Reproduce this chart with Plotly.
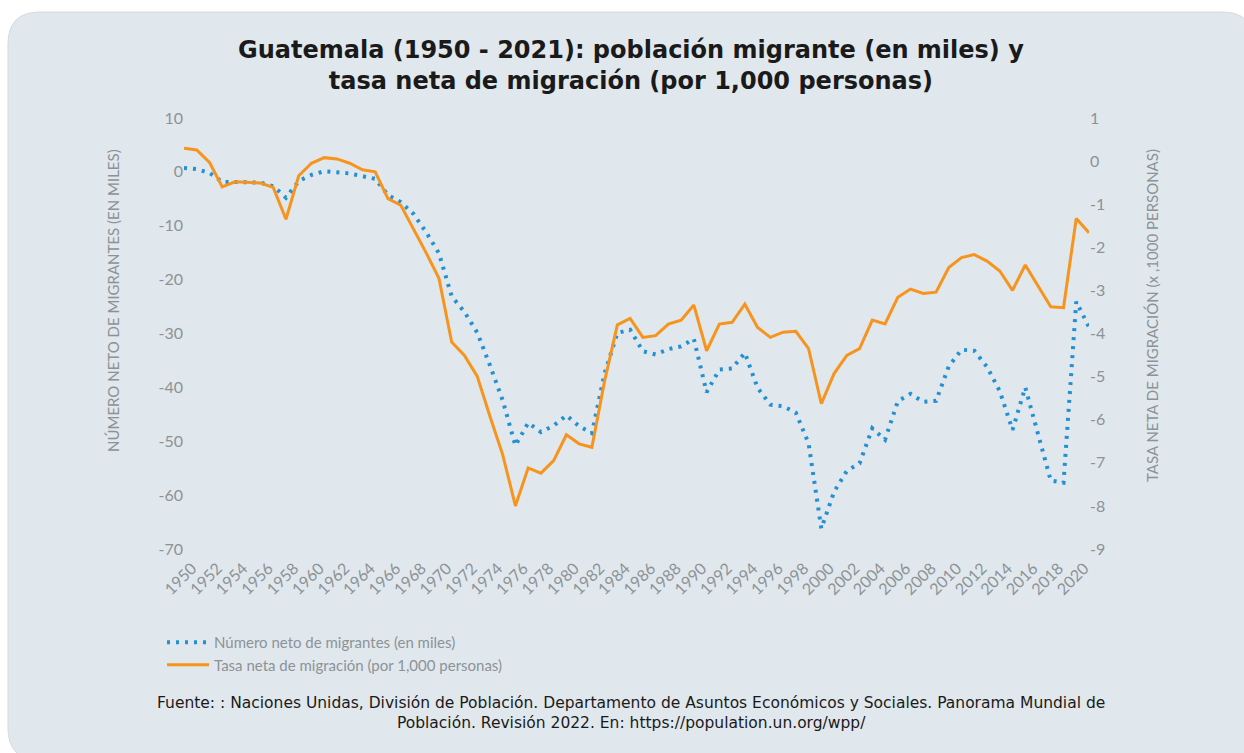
"""Guatemala: net migrants (thousands) and net migration rate, 1950-2021."""

import plotly.graph_objects as go

years = list(range(1950, 2022))

# Número neto de migrantes (en miles) - left axis
migrantes = [
    0.74, 0.5, -0.2, -1.86, -1.86, -1.9, -2.0, -2.65, -4.8, -1.7,
    -0.56, 0.12, 0.0, -0.3, -0.8, -1.3, -4.3, -5.6, -7.8, -11.2,
    -15.1, -23.1, -26.0, -29.8, -35.9, -42.4, -50.8, -46.6, -48.3, -47.1,
    -45.2, -47.2, -48.5, -37.4, -29.9, -29.3, -33.3, -33.9, -32.9, -32.4,
    -31.0, -40.9, -36.7, -36.5, -33.6, -40.1, -43.2, -43.5, -44.7, -50.4,
    -66.2, -59.4, -55.5, -54.1, -47.6, -49.7, -42.6, -41.2, -42.7, -42.5,
    -36.1, -33.0, -33.2, -36.2, -40.7, -47.9, -40.0, -48.9, -57.3, -57.7,
    -24.1, -28.8,
]

# Tasa neta de migración (por 1,000 personas) - right axis
tasa = [
    0.30, 0.26, -0.03, -0.60, -0.48, -0.50, -0.51, -0.61, -1.35, -0.34,
    -0.05, 0.08, 0.05, -0.05, -0.20, -0.25, -0.87, -1.02, -1.57, -2.13,
    -2.72, -4.20, -4.51, -4.99, -5.92, -6.81, -8.00, -7.12, -7.24, -6.95,
    -6.35, -6.56, -6.64, -5.10, -3.80, -3.65, -4.09, -4.05, -3.78, -3.69,
    -3.34, -4.40, -3.78, -3.74, -3.32, -3.86, -4.09, -3.97, -3.95, -4.35,
    -5.63, -4.93, -4.51, -4.35, -3.69, -3.78, -3.16, -2.97, -3.07, -3.04,
    -2.47, -2.24, -2.17, -2.32, -2.55, -3.00, -2.41, -2.88, -3.38, -3.40,
    -1.33, -1.66,
]

# axis ticks (plain hyphen minus, as in the original)
left_ticks = [10, 0, -10, -20, -30, -40, -50, -60, -70]
right_ticks = [1, 0, -1, -2, -3, -4, -5, -6, -7, -8, -9]

TITLE = ("Guatemala (1950 - 2021): población migrante (en miles) y<br>"
         "tasa neta de migración (por 1,000 personas)")
SOURCE = ("Fuente: : Naciones Unidas, División de Población. Departamento de Asuntos "
          "Económicos y Sociales. Panorama Mundial de<br>Población. Revisión 2022. "
          "En: https://population.un.org/wpp/")

W, H = 1244, 753
L, R, T, B = 184, 155, 118, 204
PW, PH = W - L - R, H - T - B

GRAY = "#8C9396"
CARD = "#E0E7ED"
BLUE = "#2390D3"
ORANGE = "#F7941D"


def px(x):
    return (x - L) / PW


def py(y):
    return (H - B - y) / PH


fig = go.Figure()

fig.add_trace(
    go.Scatter(
        x=years,
        y=migrantes,
        mode="lines",
        name="Número neto de migrantes (en miles)",
        line={"color": BLUE, "width": 4, "dash": "3px,6px"},
        yaxis="y",
    )
)
fig.add_trace(
    go.Scatter(
        x=years,
        y=tasa,
        mode="lines",
        name="Tasa neta de migración (por 1,000 personas)",
        line={"color": ORANGE, "width": 3},
        yaxis="y2",
    )
)

# rounded card behind the chart
x0, x1, y0, y1, r = px(8), px(1254), py(12), py(760), 32
rx, ry = r / PW, r / PH
card_path = (
    f"M {x0 + rx} {y0} L {x1 - rx} {y0} Q {x1} {y0} {x1} {y0 - ry} "
    f"L {x1} {y1 + ry} Q {x1} {y1} {x1 - rx} {y1} "
    f"L {x0 + rx} {y1} Q {x0} {y1} {x0} {y1 + ry} "
    f"L {x0} {y0 - ry} Q {x0} {y0} {x0 + rx} {y0} Z"
)
fig.add_shape(type="path", path=card_path, xref="paper", yref="paper",
              fillcolor=CARD, line={"color": "#D4DADF", "width": 1}, layer="below")

fig.add_annotation(
    text=TITLE, x=px(631), y=py(65), xref="paper", yref="paper",
    showarrow=False, xanchor="center", yanchor="middle",
    font={"family": "DejaVu Sans", "size": 24, "color": "#1A1A1A", "weight": "bold"},
)
fig.add_annotation(
    text=SOURCE, x=px(631), y=py(713), xref="paper", yref="paper",
    showarrow=False, xanchor="center", yanchor="middle",
    font={"family": "DejaVu Sans", "size": 15.5, "color": "#1A1A1A"},
)
fig.add_annotation(
    text="NÚMERO NETO DE MIGRANTES (EN MILES)", x=px(113), y=py(301),
    xref="paper", yref="paper", showarrow=False, textangle=-90,
    xanchor="center", yanchor="middle",
    font={"family": "Lato", "size": 15, "color": GRAY},
)
fig.add_annotation(
    text="TASA NETA DE MIGRACIÓN (x ,1000 PERSONAS)", x=px(1152), y=py(316),
    xref="paper", yref="paper", showarrow=False, textangle=-90,
    xanchor="center", yanchor="middle",
    font={"family": "Lato", "size": 15, "color": GRAY},
)

fig.update_layout(
    width=W,
    height=H,
    margin={"l": L, "r": R, "t": T, "b": B},
    paper_bgcolor="white",
    plot_bgcolor="rgba(0,0,0,0)",
    font={"family": "Lato", "color": GRAY, "size": 16},
    showlegend=True,
    legend={
        "x": px(162), "y": py(626), "xanchor": "left", "yanchor": "top",
        "orientation": "v", "bgcolor": "rgba(0,0,0,0)", "itemwidth": 42,
        "font": {"family": "Lato", "size": 15, "color": GRAY},
        "tracegroupgap": 0,
    },
)

fig.update_xaxes(
    range=[1950, 2021], tick0=1950, dtick=2, tickangle=-45,
    showgrid=False, zeroline=False, showline=False,
    tickfont={"family": "Lato", "size": 16, "color": GRAY},
    ticklabelshift=8, ticklabelstandoff=6,
)
fig.update_layout(
    yaxis={
        "range": [-70, 10], "showgrid": False, "zeroline": False,
        "tickvals": left_ticks, "ticktext": [str(v) for v in left_ticks],
        "tickfont": {"family": "Lato", "size": 16, "color": GRAY},
    },
    yaxis2={
        "range": [-9, 1], "overlaying": "y", "side": "right",
        "showgrid": False, "zeroline": False,
        "tickvals": right_ticks, "ticktext": [str(v) for v in right_ticks],
        "tickfont": {"family": "Lato", "size": 16, "color": GRAY},
    },
)

fig.write_html(
    "out.html",
    config={"displayModeBar": False},
    post_script="document.body.style.margin='0';document.body.style.overflow='hidden';",
)
